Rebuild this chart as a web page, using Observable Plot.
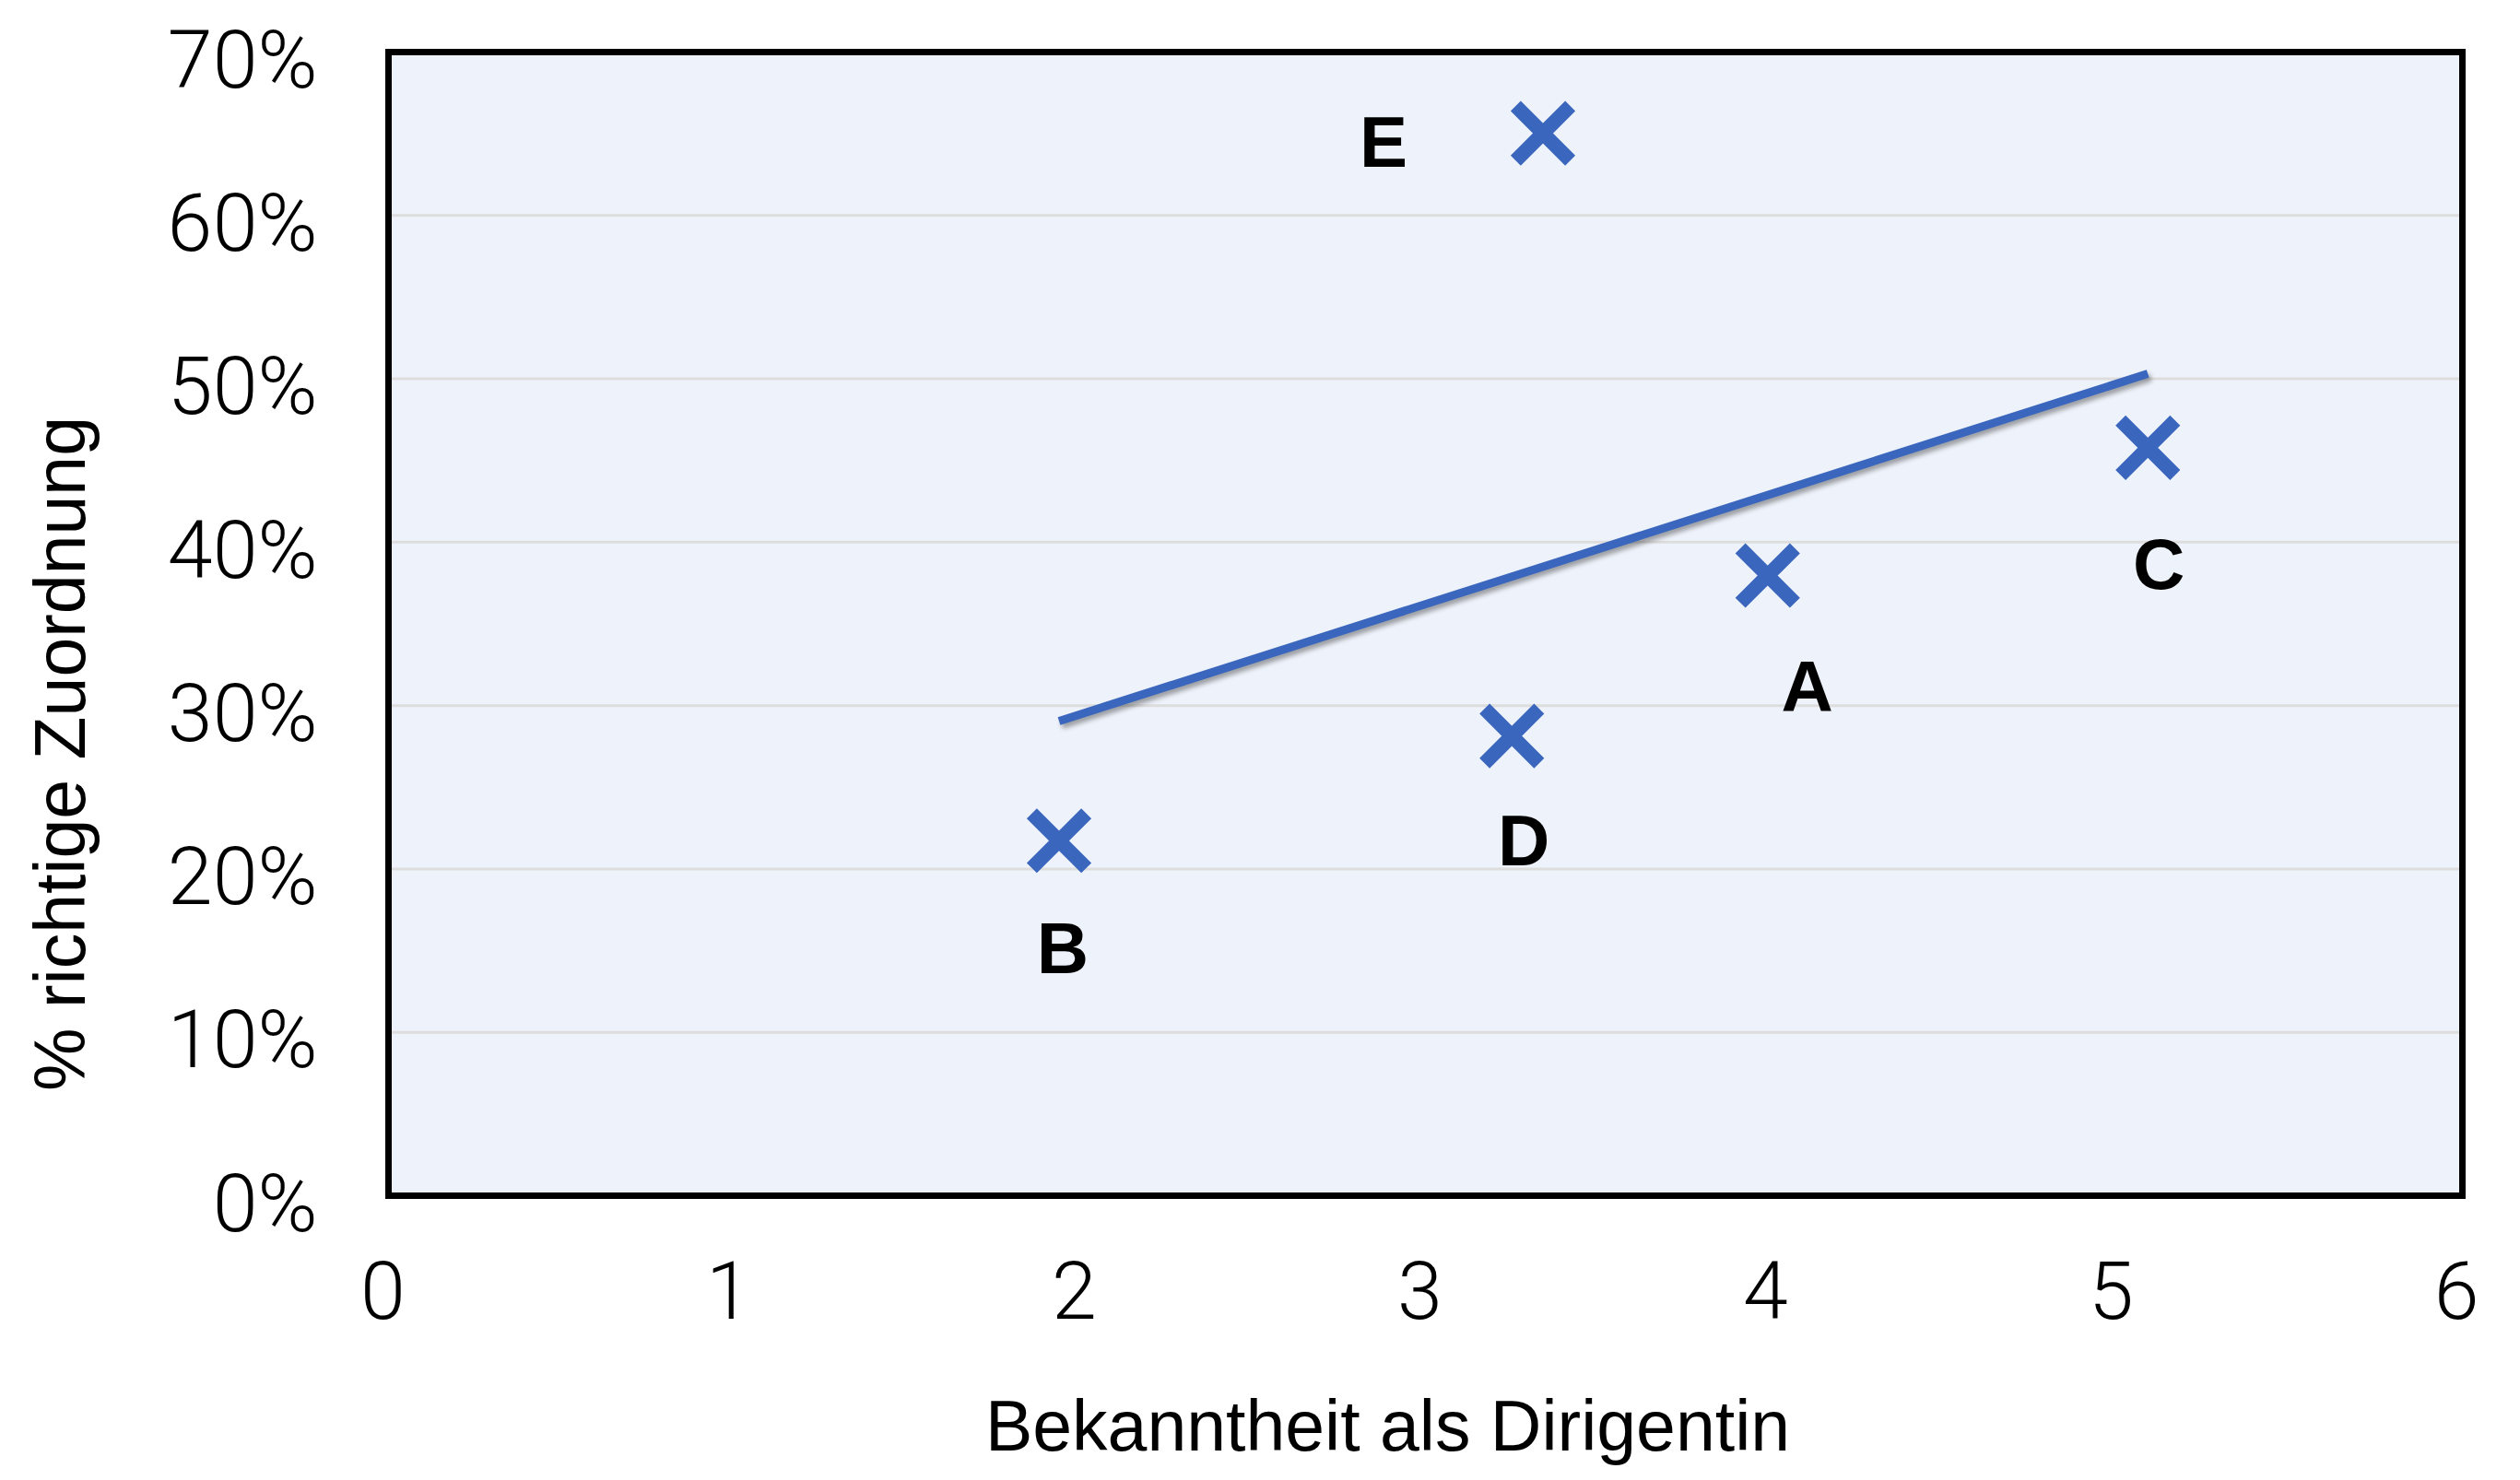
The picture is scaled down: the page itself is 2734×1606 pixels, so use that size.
<!DOCTYPE html>
<html><head><meta charset="utf-8">
<script src="https://cdn.jsdelivr.net/npm/d3@7"></script>
<script src="https://cdn.jsdelivr.net/npm/@observablehq/plot@0.6"></script>
<style>
html,body{margin:0;padding:0;background:#fff;}
#chart svg{display:block;}
g[aria-label="linear-regression"]{filter:drop-shadow(3px 4px 2.5px rgba(0,0,0,0.35));}
</style></head><body><div id="chart"></div>
<script>
// ---- data ----
const names = ["A", "B", "C", "D", "E"];
const bekanntheit = [3.99, 1.94, 5.09, 3.25, 3.34];
const richtig = [37.96, 21.73, 45.78, 28.14, 65.03];
const xTicks = [0, 1, 2, 3, 4, 5, 6];
const yTicks = [0, 10, 20, 30, 40, 50, 60, 70];
const gridTicks = [10, 20, 30, 40, 50, 60];
const xTitle = "Bekanntheit als Dirigentin";
const yTitle = "% richtige Zuordnung";

const data = names.map((n, i) => ({name: n, x: bekanntheit[i], y: richtig[i]}));

// ---- layout / style ----
const blue = "#3A66BE";
const bg = "#EEF2FA";
const labelOffsets = {A: [43, 123], B: [4, 119], C: [12, 128], D: [13, 115], E: [-173, 11]};
const sans = "'Liberation Sans', Arial, Helvetica, sans-serif";
const light = "Roboto, 'Liberation Sans', Arial, sans-serif";

const plot = Plot.plot({
  width: 2734,
  height: 1606,
  marginLeft: 421,
  marginRight: 63,
  marginTop: 56,
  marginBottom: 309,
  style: {background: "white", fontFamily: sans, color: "black"},
  x: {domain: [0, 6]},
  y: {domain: [0, 70]},
  marks: [
    Plot.frame({fill: bg, stroke: null}),
    Plot.gridY(gridTicks, {stroke: "#dddddd", strokeOpacity: 1, strokeWidth: 3}),
    Plot.axisY(yTicks, {tickSize: 0, tickPadding: 77, tickFormat: d => d + "%", fontSize: 88, fontWeight: 300, fontFamily: light, dy: 10, label: null}),
    Plot.axisX(xTicks, {tickSize: 0, tickPadding: 71, tickFormat: d => String(d), fontSize: 88, fontWeight: 300, fontFamily: light, dx: -6, label: null}),
    Plot.linearRegressionY(data, {x: "x", y: "y", stroke: blue, strokeWidth: 9, ci: 0, strokeLinecap: "butt"}),
    Plot.dot(data, {x: "x", y: "y", symbol: "times", r: 27, stroke: blue, strokeWidth: 15.5}),
    ...names.map(n => Plot.text(data.filter(d => d.name === n), {
      x: "x", y: "y", text: "name",
      dx: labelOffsets[n][0], dy: labelOffsets[n][1],
      fontSize: 78, fontWeight: "bold", fontFamily: sans, fill: "black"
    })),
    Plot.text([xTitle], {frameAnchor: "bottom", text: d => d, textAnchor: "middle", dx: -41, dy: 276, lineAnchor: "bottom", fontSize: 77, fontFamily: sans, fill: "black"}),
    Plot.text([yTitle], {frameAnchor: "left", text: d => d, textAnchor: "middle", rotate: -90, dx: -330, dy: 141, lineAnchor: "bottom", fontSize: 77, fontFamily: sans, fill: "black"}),
    Plot.frame({stroke: "black", strokeWidth: 7})
  ]
});
document.getElementById("chart").appendChild(plot);
</script></body></html>
